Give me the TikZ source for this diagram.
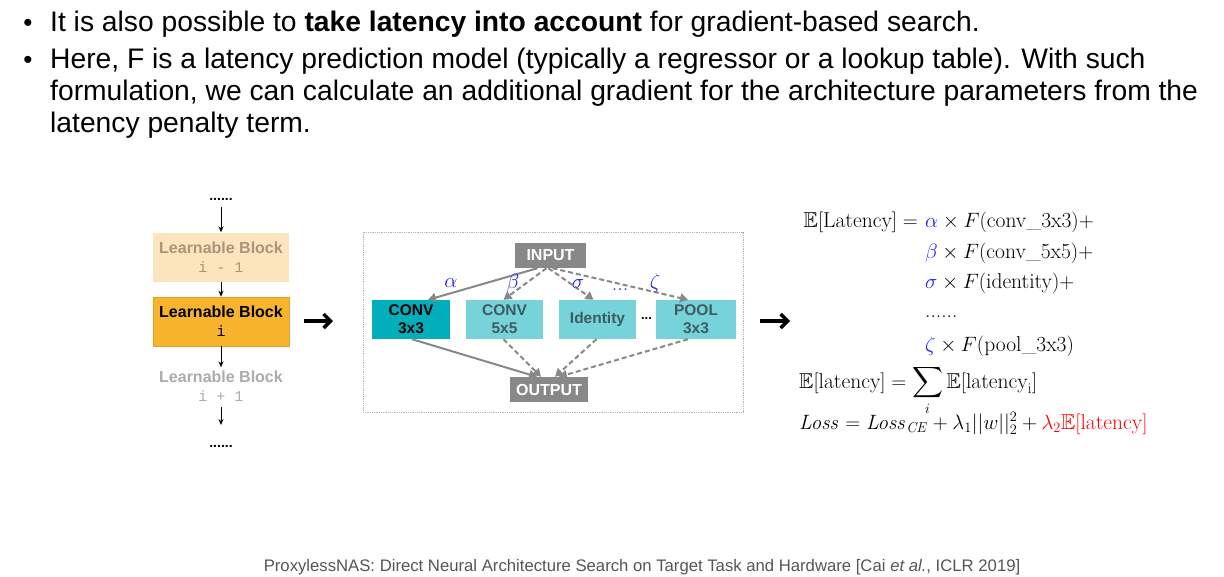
\documentclass[tikz,border=0pt]{standalone}
\usepackage[no-math]{fontspec}
\usepackage{amsmath,amssymb}
\usetikzlibrary{arrows.meta,calc}
\newfontfamily\arial{Liberation Sans}
\newfontfamily\mono{Liberation Mono}
\newcommand\blocktxtfont{\arial\bfseries\fontsize{16}{19}\selectfont}
\newcommand\blockmono{\mono\mdseries\fontsize{15}{19}\selectfont}
\definecolor{peach}{HTML}{FCE5BC}
\definecolor{peachtext}{HTML}{A8957A}
\definecolor{orangeblk}{HTML}{F7B42C}
\definecolor{darkteal}{HTML}{00AFBB}
\definecolor{lightteal}{HTML}{76D3DA}
\definecolor{tealtext}{HTML}{3E5C60}
\definecolor{opgray}{HTML}{888888}
\definecolor{greek}{RGB}{30,30,255}
\definecolor{capgray}{HTML}{555555}
\tikzset{
  body/.style={anchor=base west, inner sep=0pt, font=\arial\fontsize{28.25}{32}\selectfont},
  bulletdot/.style={anchor=base, inner sep=0pt, font=\arial\fontsize{26}{30}\selectfont},
  blockbox/.style={minimum width=136pt, minimum height=49pt, inner sep=0pt, align=center, font=\blocktxtfont},
  smallarrow/.style={-{Stealth[length=6pt,width=5pt]}, line width=1pt, black},
  bigarrow/.style={-{Straight Barb[length=7pt,width=14pt,line width=3.5pt]}, line width=3.5pt, black},
  opbox/.style={minimum height=39pt, inner sep=0pt, align=center, font=\arial\bfseries\fontsize{15.5}{18}\selectfont},
  iobox/.style={fill=opgray, text=white, minimum height=25pt, inner sep=0pt, font=\arial\bfseries\fontsize{16}{19}\selectfont},
  conn/.style={draw=opgray, line width=2pt, -{Triangle[length=8pt,width=9pt]}},
  dconn/.style={conn, dash pattern=on 5pt off 3pt},
  glabel/.style={text=greek, font=\fontsize{22}{25}\selectfont, inner sep=0pt},
  eq/.style={anchor=base west, inner sep=0pt, font=\fontsize{21.5}{25}\selectfont},
}
\begin{document}
\begin{tikzpicture}[x=1pt,y=-1pt]
\useasboundingbox (0,0) rectangle (1224,576);
\fill[white] (0,0) rectangle (1224,576);

% ---- top bullets
\node[bulletdot] (bu1) at (28,31.5) {•};
\node[body] (t1) at (50,31.5) {It is also possible to \textbf{take latency into account} for gradient-based search.};
\node[bulletdot] (bu2) at (28,68.5) {•};
\node[body] (t2) at (50,68.5) {Here, F is a latency prediction model (typically a regressor or a lookup table). With such};
\node[body] (t3) at (50,100.5) {formulation, we can calculate an additional gradient for the architecture parameters from the};
\node[body] (t4) at (50,132.5) {latency penalty term.};

% ---- left column
\node[inner sep=0pt, font=\arial\bfseries\fontsize{14}{16}\selectfont] (dt) at (221,199) {......};
\node[blockbox, fill=peach, text=peachtext] (b1) at (221,257) {Learnable Block\\{\blockmono i - 1}};
\node[blockbox, fill=orangeblk, draw=orangeblk!90!black, line width=0.6pt, text=black] (b2) at (221,321.5) {Learnable Block\\{\blockmono i}};
\node[blockbox, minimum height=40pt, text=black!33] (b3) at (221,386.5) {Learnable Block\\{\blockmono i + 1}};
\node[inner sep=0pt, font=\arial\bfseries\fontsize{14}{16}\selectfont] (db) at (221,446) {......};
\coordinate (dtb) at (221,207);
\coordinate (b3b) at (221,407);
\coordinate (dbt) at (221,425);
\draw[smallarrow] (dtb) -- (b1.north);
\draw[smallarrow] (b1.south) -- (b2.north);
\draw[smallarrow] (b2.south) -- ($(b3.north)+(0,1)$);
\draw[smallarrow] (b3b) -- (dbt);

% ---- big arrows
\coordinate (a1s) at (304,321);
\coordinate (a1e) at (333,321);
\draw[bigarrow] (a1s) -- (a1e);
\coordinate (a2s) at (760,321);
\coordinate (a2e) at (790,321);
\draw[bigarrow] (a2s) -- (a2e);

% ---- middle box
\draw[densely dotted, draw=black!30, line width=0.8pt] (363,232) rectangle (743,412);
\node[iobox, minimum width=71pt] (in) at (550.5,255.5) {INPUT};
\node[iobox, minimum width=78pt] (out) at (549,389.5) {OUTPUT};
\node[opbox, fill=darkteal, text=black, minimum width=78pt] (c1) at (411,319.5) {CONV\\3x3};
\node[opbox, fill=lightteal, text=tealtext, minimum width=77pt] (c2) at (504.5,319.5) {CONV\\5x5};
\node[opbox, fill=lightteal, text=tealtext, minimum width=77pt] (c3) at (597.5,319.5) {Identity};
\node[opbox, fill=lightteal, text=tealtext, minimum width=80pt] (c4) at (696,319.5) {POOL\\3x3};
\node[inner sep=0pt, font=\arial\bfseries\fontsize{13}{14}\selectfont] (od) at (646.5,319) {...};

\draw[conn]  ($(in.south)+(-13,0)$) -- ($(c1.north)+(17,0)$);
\draw[dconn] ($(in.south)+(-4,0)$) -- ($(c2.north)+(-1,0)$);
\draw[dconn] ($(in.south)+(-2,0)$) -- ($(c3.north)+(-4,0)$);
\draw[dconn] ($(in.south)+(2,0)$) -- ($(c4.north)+(-8,0)$);

\node[glabel] (la) at (451,283) {$\alpha$};
\node[glabel] (lb) at (513,283) {$\beta$};
\node[glabel] (ls) at (578,284) {$\sigma$};
\node[glabel, anchor=base] (ld) at (620,290) {...};
\node[glabel] (lz) at (655,283) {$\zeta$};

\draw[conn]  ($(c1.south)+(1,0)$) -- ($(out.north)+(-12,0)$);
\draw[dconn] ($(c2.south)+(-1,0)$) -- ($(out.north)+(-8,0)$);
\draw[dconn] ($(c3.south)+(-1,0)$) -- ($(out.north)+(6,0)$);
\draw[dconn] ($(c4.south)+(-8,0)$) -- ($(out.north)+(10,0)$);

% ---- equations
\node[eq, anchor=base east] (e1l) at (918,227) {$\mathbb{E}[\text{Latency}] =$};
\node[eq] (e1r) at (925,227) {$\textcolor{greek}{\alpha}\times F(\text{conv\_3x3})+$};
\node[eq] (e2r) at (925,258) {$\textcolor{greek}{\beta}\times F(\text{conv\_5x5})+$};
\node[eq] (e3r) at (925,288.5) {$\textcolor{greek}{\sigma}\times F(\text{identity})+$};
\node[eq] (e4r) at (925,317) {......};
\node[eq] (e5r) at (925,351) {$\textcolor{greek}{\zeta}\times F(\text{pool\_3x3})$};
\node[eq] (e6) at (799,388) {$\mathbb{E}[\text{latency}] = \displaystyle\sum_i \mathbb{E}[\text{latency}_\text{i}]$};
\node[eq] (e7) at (799,429.5) {$\mathit{Loss} = \mathit{Loss}_{\mathit{CE}} + \lambda_1||w||_2^2 + \textcolor{red}{\lambda_2\mathbb{E}[\text{latency}]}$};

% ---- caption
\node[anchor=base, inner sep=0pt, text=capgray, font=\arial\fontsize{16.7}{19}\selectfont] (cap) at (642,571) {ProxylessNAS: Direct Neural Architecture Search on Target Task and Hardware [Cai \textit{et al.}, ICLR 2019]};
\end{tikzpicture}
\end{document}
